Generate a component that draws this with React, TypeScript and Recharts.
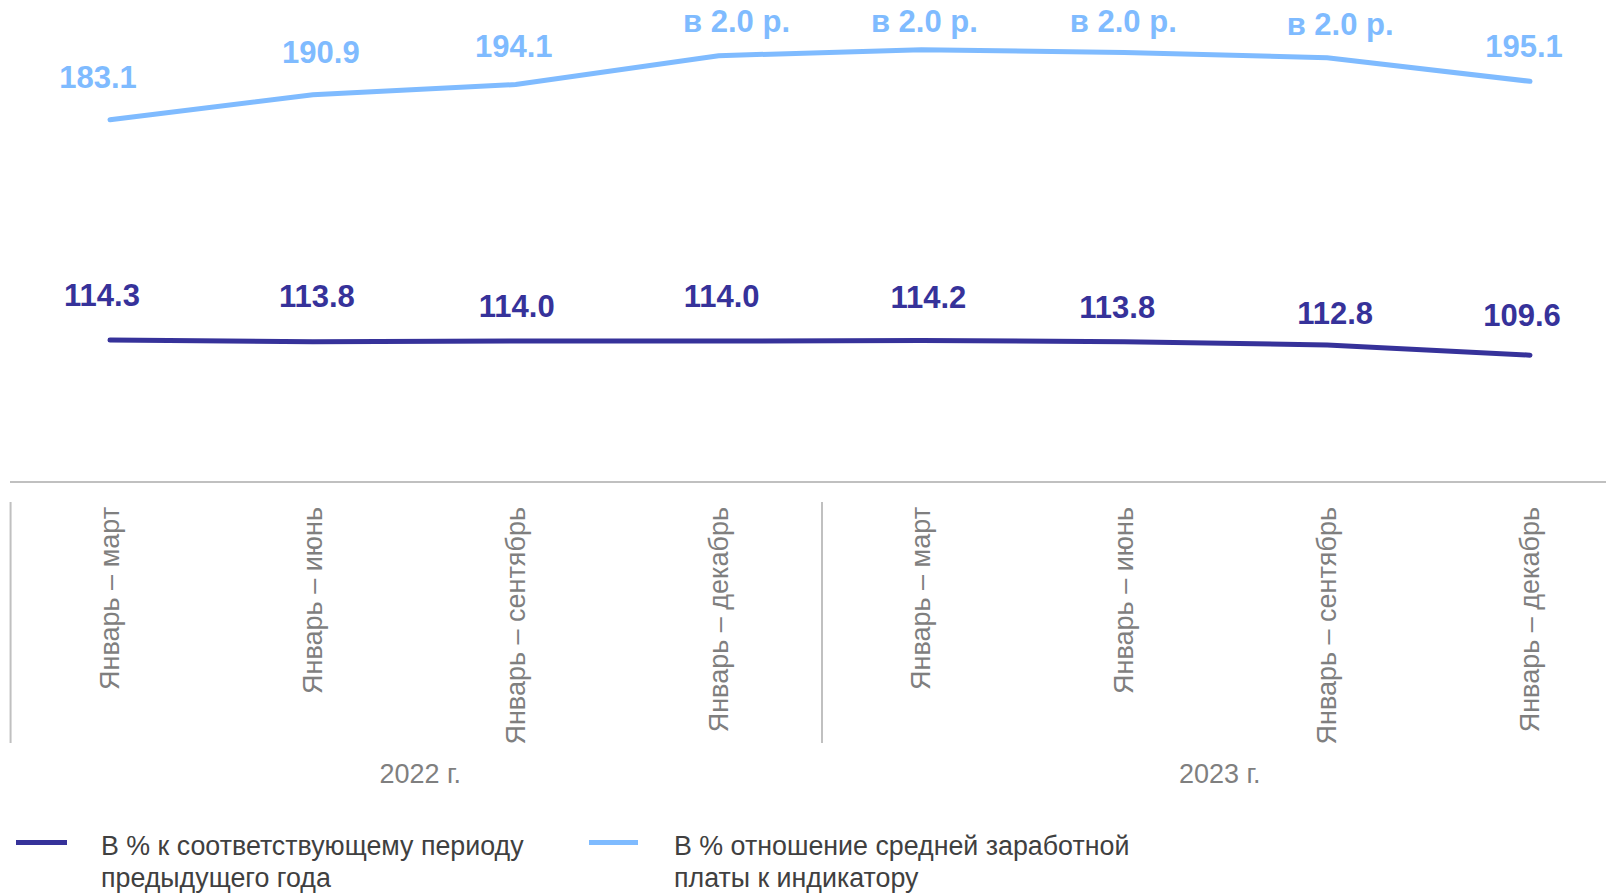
import { LineChart, Line, XAxis, YAxis, LabelList } from "recharts";

// periods on the x axis, two years of four cumulative quarters
const PERIODS = [
  "Январь – март",
  "Январь – июнь",
  "Январь – сентябрь",
  "Январь – декабрь",
  "Январь – март",
  "Январь – июнь",
  "Январь – сентябрь",
  "Январь – декабрь",
];
const YEARS = ["2022 г.", "2023 г."];

// % к соответствующему периоду предыдущего года
const YOY = [114.3, 113.8, 114.0, 114.0, 114.2, 113.8, 112.8, 109.6];
// % отношение средней заработной платы к индикатору (positions)
const RATIO = [183.1, 190.9, 194.1, 203.1, 205.0, 204.1, 202.5, 195.1];
const RATIO_LABELS = ["183.1", "190.9", "194.1", "в 2.0 р.", "в 2.0 р.", "в 2.0 р.", "в 2.0 р.", "195.1"];
const YOY_LABELS = ["114.3", "113.8", "114.0", "114.0", "114.2", "113.8", "112.8", "109.6"];

// label nudges [dx, baseline dy] relative to each point
const RATIO_NUDGE = [[-12, -32], [8, -32], [-2, -28], [18, -24], [3, -18], [-1, -21], [13, -23], [-6, -24]];
const YOY_NUDGE = [[-8, -34], [4, -35], [1, -24], [3, -34], [7, -32], [-7, -24], [8, -21], [-8, -29]];
const YEAR_NUDGE = [6, -6];

const DARK = "#36329a";
const LIGHT = "#7fbbff";
const GREY = "#7f7f7f";
const AXIS = "#c0c0c0";
const FONT = "'Liberation Sans', Arial, sans-serif";

const W = 1606;
const H = 888;
const PAGE_H = 896;
const PLOT_TOP = 8;
const PLOT_BOTTOM = 482;
const PAD_L = 100;
const PAD_R = 84;
const PLOT_LEFT = 2;
const HALF_BAND = (W - PLOT_LEFT - PAD_L - PAD_R) / (PERIODS.length - 1) / 2;

const data = PERIODS.map((period, i) => ({ period, yoy: YOY[i], ratio: RATIO[i] }));

function PeriodTick(props: any) {
  const { x, y, payload, index } = props;
  const ay = y + 25;
  const sep = x - HALF_BAND + 2;
  return (
    <g>
      {index % 4 === 0 && (
        <>
          <line x1={sep} x2={sep} y1={y + 20} y2={y + 261} stroke={AXIS} strokeWidth={2} />
          <text
            x={x + 3 * HALF_BAND + YEAR_NUDGE[index / 4]}
            y={y + 292}
            textAnchor="middle"
            dominantBaseline="central"
            fill={GREY}
            fontSize={27}
            fontFamily={FONT}
          >
            {YEARS[index / 4]}
          </text>
        </>
      )}
      <text
        x={x}
        y={ay}
        transform={`rotate(-90 ${x} ${ay})`}
        textAnchor="end"
        dominantBaseline="central"
        fill={GREY}
        fontSize={27}
        fontFamily={FONT}
      >
        {payload.value}
      </text>
    </g>
  );
}

function makeLabel(texts: string[], nudge: number[][], color: string) {
  return (props: any) => {
    const { x, y, index } = props;
    const [dx, dy] = nudge[index];
    return (
      <text
        x={x + dx}
        y={y + dy}
        textAnchor="middle"
        fill={color}
        fontSize={31}
        fontWeight="bold"
        fontFamily={FONT}
      >
        {texts[index]}
      </text>
    );
  };
}

function LegendItem({
  color,
  left,
  width,
  textLeft,
  lines,
}: {
  color: string;
  left: number;
  width: number;
  textLeft: number;
  lines: string[];
}) {
  return (
    <>
      <div style={{ position: "absolute", left, top: 840, width, height: 5, background: color }} />
      <div
        style={{
          position: "absolute",
          left: textLeft,
          top: 830,
          fontSize: 26.8,
          lineHeight: "32px",
          color: "#404040",
          fontFamily: FONT,
          whiteSpace: "nowrap",
        }}
      >
        {lines.map((l) => (
          <div key={l}>{l}</div>
        ))}
      </div>
    </>
  );
}

export default function App() {
  return (
    <div style={{ position: "relative", width: W, height: PAGE_H, marginTop: -8, fontFamily: FONT }}>
      <LineChart
        width={W}
        height={H}
        data={data}
        margin={{ top: PLOT_TOP, right: 0, bottom: 0, left: PLOT_LEFT }}
      >
        <XAxis
          dataKey="period"
          padding={{ left: PAD_L, right: PAD_R }}
          height={H - PLOT_BOTTOM}
          tickLine={false}
          tickSize={0}
          tickMargin={0}
          axisLine={{ stroke: AXIS, strokeWidth: 2 }}
          tick={PeriodTick}
          interval={0}
        />
        <YAxis hide domain={[70, 218]} />
        <Line
          dataKey="ratio"
          type="linear"
          stroke={LIGHT}
          strokeWidth={5}
          strokeLinecap="round"
          dot={false}
          activeDot={false}
          isAnimationActive={false}
        >
          <LabelList dataKey="ratio" content={makeLabel(RATIO_LABELS, RATIO_NUDGE, LIGHT)} />
        </Line>
        <Line
          dataKey="yoy"
          type="linear"
          stroke={DARK}
          strokeWidth={5}
          strokeLinecap="round"
          dot={false}
          activeDot={false}
          isAnimationActive={false}
        >
          <LabelList dataKey="yoy" content={makeLabel(YOY_LABELS, YOY_NUDGE, DARK)} />
        </Line>
      </LineChart>
      <LegendItem
        color={DARK}
        left={8}
        width={51}
        textLeft={93}
        lines={["В % к соответствующему периоду", "предыдущего года"]}
      />
      <LegendItem
        color={LIGHT}
        left={581}
        width={49}
        textLeft={666}
        lines={["В % отношение средней заработной", "платы к индикатору"]}
      />
    </div>
  );
}
